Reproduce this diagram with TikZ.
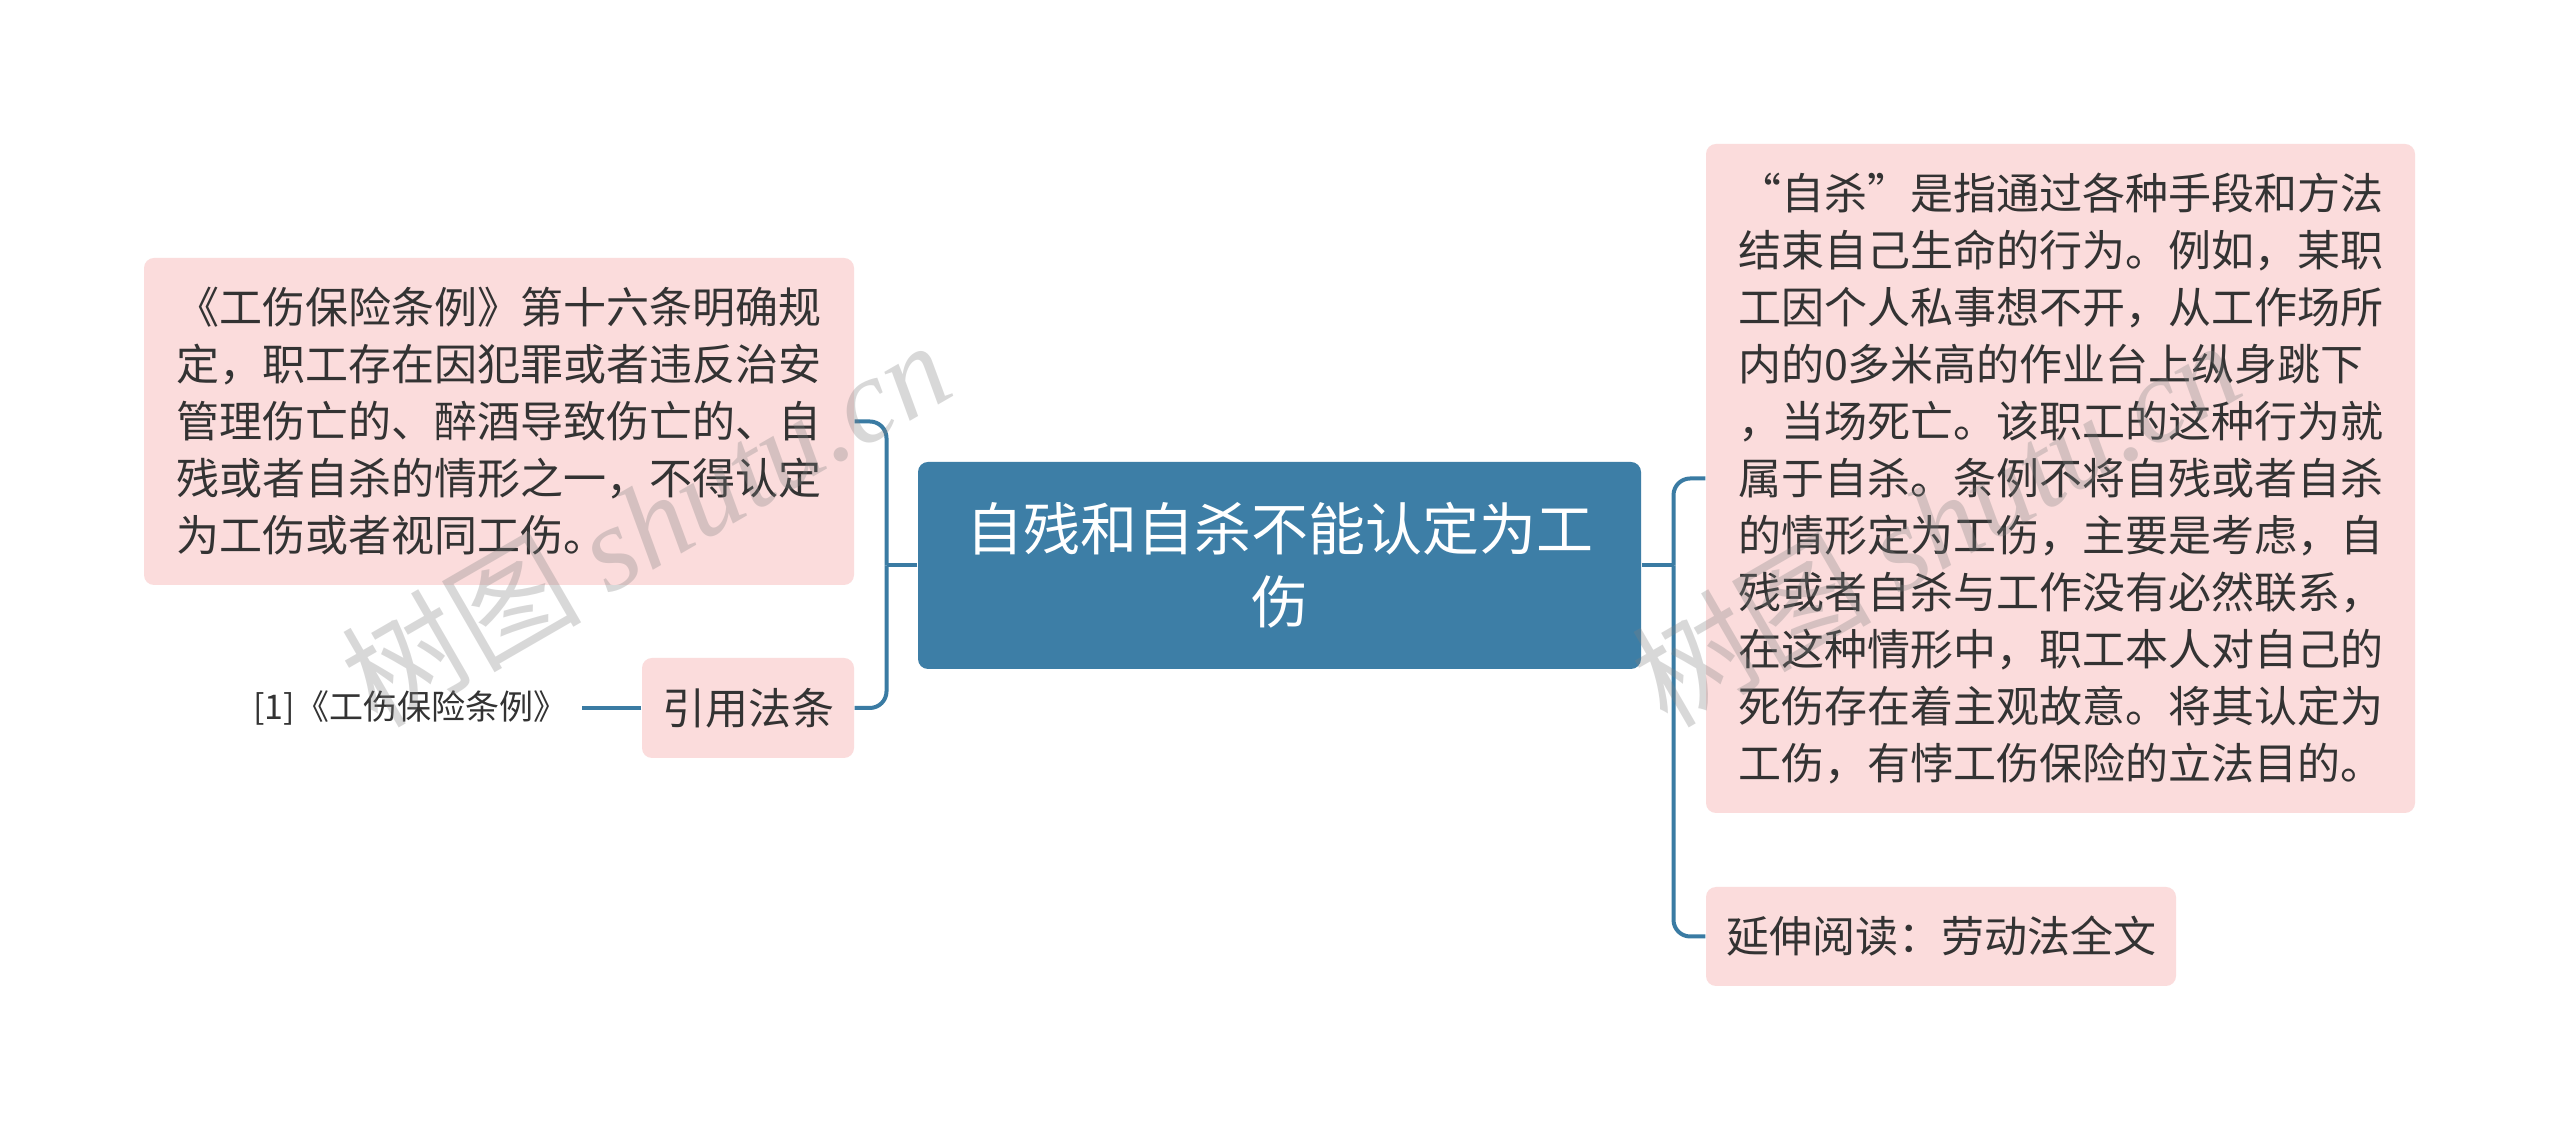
\documentclass[tikz,border=0pt]{standalone}
\usepackage{fontspec}
\setmainfont{Noto Sans CJK SC}
\newfontfamily\wmserif{Liberation Serif}
\definecolor{mainblue}{HTML}{3D7EA6}
\definecolor{linecol}{HTML}{3A7BA3}
\definecolor{pinkbox}{HTML}{FBDCDC}
\definecolor{txtcol}{HTML}{333333}
\tikzset{
  pbox/.style={fill=pinkbox, rounded corners=3pt, text=txtcol, inner sep=0pt,
    font=\fontsize{12.9pt}{17.1pt}\selectfont},
  cbox/.style={fill=mainblue, rounded corners=3pt, text=white, inner sep=0pt, align=center,
    font=\fontsize{17.1pt}{21.9pt}\selectfont},
  conn/.style={draw=linecol, line width=1.2pt, rounded corners=5pt},
  wm/.style={rotate=30, text=gray, opacity=0.3, inner sep=0pt}
}
\begin{document}
\begin{tikzpicture}[x=0.3pt,y=-0.3pt]
\fill[white] (0,0) rectangle (2560,1132);
\useasboundingbox (0,0) rectangle (2560,1132);

\node[cbox, minimum width=216.9pt, minimum height=62.1pt] (root) at (1279.5,565.5)
  {自残和自杀不能认定为工\\伤};

\node[pbox, align=left, minimum width=213pt, minimum height=98.1pt] (left) at (499,421.5)
  {《工伤保险条例》第十六条明确规\\
   定，职工存在因犯罪或者违反治安\\
   管理伤亡的、醉酒导致伤亡的、自\\
   残或者自杀的情形之一，不得认定\\
   为工伤或者视同工伤。};

\node[pbox, align=center, minimum width=63.6pt, minimum height=30pt] (cite) at (748,708) {引用法条};

\node[anchor=east, inner sep=0pt, text=txtcol, font=\fontsize{10.2pt}{12pt}\selectfont] (ref) at (568,708)
  {[1]《工伤保险条例》};

\node[pbox, align=left, minimum width=212.7pt, minimum height=200.7pt] (right) at (2060.5,478.5)
  {“自杀”是指通过各种手段和方法\\
   结束自己生命的行为。例如，某职\\
   工因个人私事想不开，从工作场所\\
   内的0多米高的作业台上纵身跳下\\
   ，当场死亡。该职工的这种行为就\\
   属于自杀。条例不将自残或者自杀\\
   的情形定为工伤，主要是考虑，自\\
   残或者自杀与工作没有必然联系，\\
   在这种情形中，职工本人对自己的\\
   死伤存在着主观故意。将其认定为\\
   工伤，有悖工伤保险的立法目的。};

\node[pbox, align=center, minimum width=141pt, minimum height=29.7pt] (read) at (1941,936.5)
  {延伸阅读：劳动法全文};

\coordinate (lj) at (886.5,565.5);
\coordinate (rj) at (1673.5,565.5);
\coordinate (refend) at (582,708);

\draw[conn] (root.west) -- (lj);
\draw[conn] (left.east) -| (lj);
\draw[conn] (cite.east) -| (lj);
\draw[conn] (cite.west) -- (refend);
\draw[conn] (root.east) -- (rj);
\draw[conn] (right.west) -| (rj);
\draw[conn] (read.west) -| (rj);

\node[wm, font=\fontsize{36pt}{36pt}\selectfont] (wm1) at (645,522) {树图 {\wmserif\itshape shutu.cn}};
\node[wm, font=\fontsize{36pt}{36pt}\selectfont] (wm2) at (1935,522) {树图 {\wmserif\itshape shutu.cn}};
\end{tikzpicture}
\end{document}
